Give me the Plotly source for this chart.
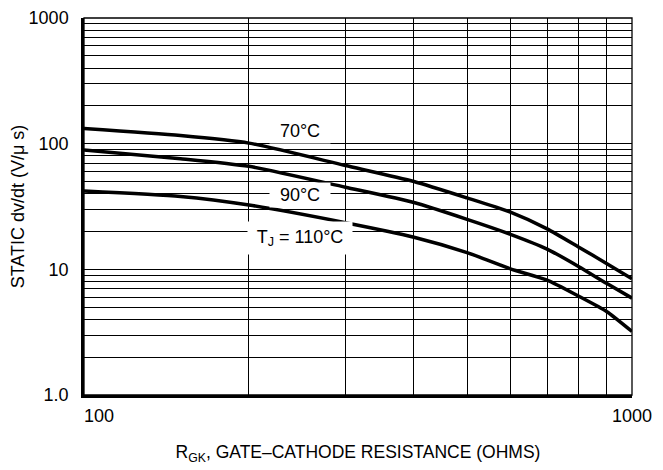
import math
import plotly.graph_objects as go

# Data
r_gk = [100, 150, 200, 300, 400, 500, 600, 700, 800, 900, 1000]
dvdt_70 = [132, 116, 101, 67, 50, 37, 28.5, 21, 15, 11.1, 8.4]
dvdt_90 = [89, 76, 66, 45, 34, 25, 19, 14.5, 10.5, 7.7, 5.9]
dvdt_110 = [42, 38, 32.5, 23.5, 18.0, 13.6, 10.1, 8.2, 6.1, 4.6, 3.2]

x_grid = [100, 200, 300, 400, 500, 600, 700, 800, 900, 1000]
x_labels = {100: "\u00a0\u00a0\u00a0\u00a0\u00a0\u00a0100", 1000: "1000"}
y_grid = [m * 10 ** e for e in range(0, 3) for m in range(1, 10)] + [1000]
y_labels = {1: "1.0", 10: "10", 100: "100", 1000: "1000"}

label_x = [248, 248, 248]
label_y = [127, 39.3, 17.6]
label_text = ["70°C", "90°C", "T<sub>J</sub> = 110°C"]
label_w = [60, 60, 104]
label_h = [24, 24, 32]

NARROW = "Liberation Sans Narrow, Arial Narrow, Liberation Sans, sans-serif"
REGULAR = "Liberation Sans, Arial, Helvetica, sans-serif"

fig = go.Figure()
for ys in (dvdt_70, dvdt_90, dvdt_110):
    fig.add_trace(go.Scatter(
        x=r_gk, y=ys, mode="lines",
        line=dict(color="black", width=3.5, shape="spline", smoothing=0.6),
        showlegend=False, hoverinfo="skip"))

for lx, ly, lt, w, h in zip(label_x, label_y, label_text, label_w, label_h):
    fig.add_annotation(x=math.log10(lx), y=math.log10(ly), xref="x", yref="y",
                       text=lt, showarrow=False,
                       font=dict(family=REGULAR, size=18, color="black"),
                       bgcolor="white", borderpad=0, width=w, height=h,
                       xanchor="center", yanchor="middle")

fig.update_xaxes(
    type="log", range=[2, 3], automargin=False,
    tickvals=x_grid, ticktext=[x_labels.get(v, "") for v in x_grid],
    showgrid=True, gridcolor="black", gridwidth=1.2,
    showline=True, linecolor="black", linewidth=2.5,
    ticks="", ticklabelstandoff=3, ticklabeloverflow="allow",
    tickfont=dict(family=NARROW, size=18, color="black"),
    title=dict(text="R<sub>GK</sub>, GATE–CATHODE RESISTANCE (OHMS)",
               font=dict(family=REGULAR, size=17.5, color="black"), standoff=21),
    zeroline=False,
)
fig.update_yaxes(
    type="log", range=[0, 3], automargin=False,
    tickvals=y_grid, ticktext=[y_labels.get(v, "") for v in y_grid],
    showgrid=True, gridcolor="black", gridwidth=1.2,
    showline=True, linecolor="black", linewidth=2.5,
    ticks="", ticklabelstandoff=9, ticklabeloverflow="allow",
    tickfont=dict(family=NARROW, size=18, color="black"),
    title=dict(text="STATIC dv/dt (V/μ s)",
               font=dict(family=REGULAR, size=18, color="black"), standoff=3),
    zeroline=False,
)

# thin frame on top and right edges
fig.add_shape(type="rect", xref="paper", yref="paper", x0=0, y0=0, x1=1, y1=1,
              line=dict(color="black", width=1.3), layer="below")

fig.update_layout(
    width=655, height=462,
    margin=dict(l=76, r=31, t=10, b=75),
    paper_bgcolor="white", plot_bgcolor="white",
    font=dict(family=REGULAR, color="black"),
)

fig.write_html("out.html")
